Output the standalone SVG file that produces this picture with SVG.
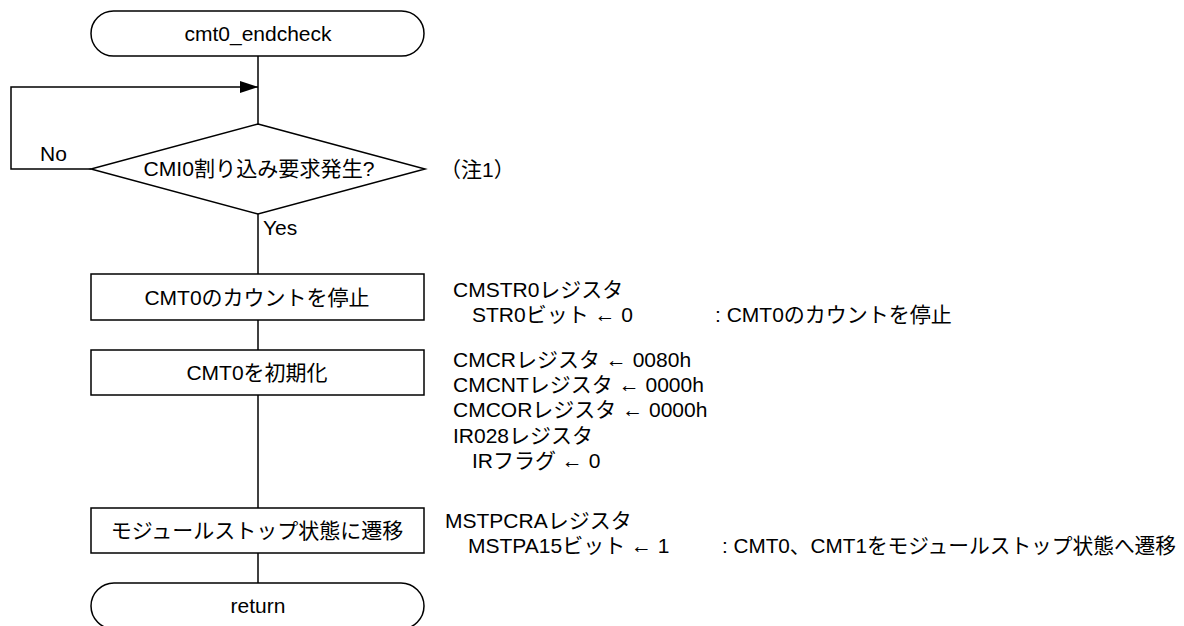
<svg xmlns="http://www.w3.org/2000/svg" width="1184" height="626" viewBox="0 0 1184 626">
<defs>
<style>
.s{fill:#fff;stroke:#000;stroke-width:1.5}
.l{fill:none;stroke:#000;stroke-width:1.5}
.t{font-family:"Liberation Sans","Noto Sans CJK JP",sans-serif;font-size:21px;fill:#000}
.c{text-anchor:middle}
.r{font-family:"Liberation Sans","Noto Sans CJK JP",sans-serif;font-size:21px;fill:#000}
</style>
<marker id="ah" markerWidth="18" markerHeight="12" refX="18" refY="6" orient="auto" markerUnits="userSpaceOnUse">
<path d="M0,0 L18,6 L0,12 Z" fill="#000"/>
</marker>
</defs>
<rect width="1184" height="626" fill="#fff"/>
<g id="connectors">
<line class="l" x1="258" y1="56" x2="258" y2="124"/>
<polyline class="l" points="91,169 11,169 11,87 258,87" marker-end="url(#ah)"/>
<line class="l" x1="258" y1="214" x2="258" y2="274"/>
<line class="l" x1="258" y1="320" x2="258" y2="350"/>
<line class="l" x1="258" y1="395" x2="258" y2="508"/>
<line class="l" x1="258" y1="553" x2="258" y2="583"/>
<text class="t" x="40" y="161">No</text>
<text class="t" x="263" y="235">Yes</text>
</g>
<g id="start">
<rect class="s" x="91" y="11" width="333" height="45" rx="22.5"/>
<text class="t c" x="258" y="41">cmt0_endcheck</text>
</g>
<g id="decision">
<polygon class="s" points="258,124 425,169 258,214 91,169"/>
<text class="t c" x="259" y="176" textLength="231" lengthAdjust="spacingAndGlyphs">CMI0割り込み要求発生?</text>
</g>
<g id="stop-count">
<rect class="s" x="91" y="274" width="333" height="46"/>
<text class="t c" x="257" y="305">CMT0のカウントを停止</text>
</g>
<g id="init">
<rect class="s" x="91" y="350" width="333" height="45"/>
<text class="t c" x="257" y="380">CMT0を初期化</text>
</g>
<g id="mstop">
<rect class="s" x="91" y="508" width="333" height="45"/>
<text class="t c" x="257" y="538">モジュールストップ状態に遷移</text>
</g>
<g id="return">
<rect class="s" x="91" y="583" width="333" height="46" rx="23"/>
<text class="t c" x="258" y="613">return</text>
</g>
<g id="notes">
<text class="r" x="440" y="177">（注1）</text>
<text class="r" x="453" y="297">CMSTR0レジスタ</text>
<text class="r" x="472" y="322">STR0ビット ← 0</text>
<text class="r" x="715" y="322">: CMT0のカウントを停止</text>
<text class="r" x="453" y="367">CMCRレジスタ ← 0080h</text>
<text class="r" x="453" y="392">CMCNTレジスタ ← 0000h</text>
<text class="r" x="453" y="417">CMCORレジスタ ← 0000h</text>
<text class="r" x="453" y="443">IR028レジスタ</text>
<text class="r" x="472" y="468">IRフラグ ← 0</text>
<text class="r" x="445" y="528">MSTPCRAレジスタ</text>
<text class="r" x="468" y="553">MSTPA15ビット ← 1</text>
<text class="r" x="722" y="553" textLength="454" lengthAdjust="spacingAndGlyphs">: CMT0、CMT1をモジュールストップ状態へ遷移</text>
</g>
</svg>
